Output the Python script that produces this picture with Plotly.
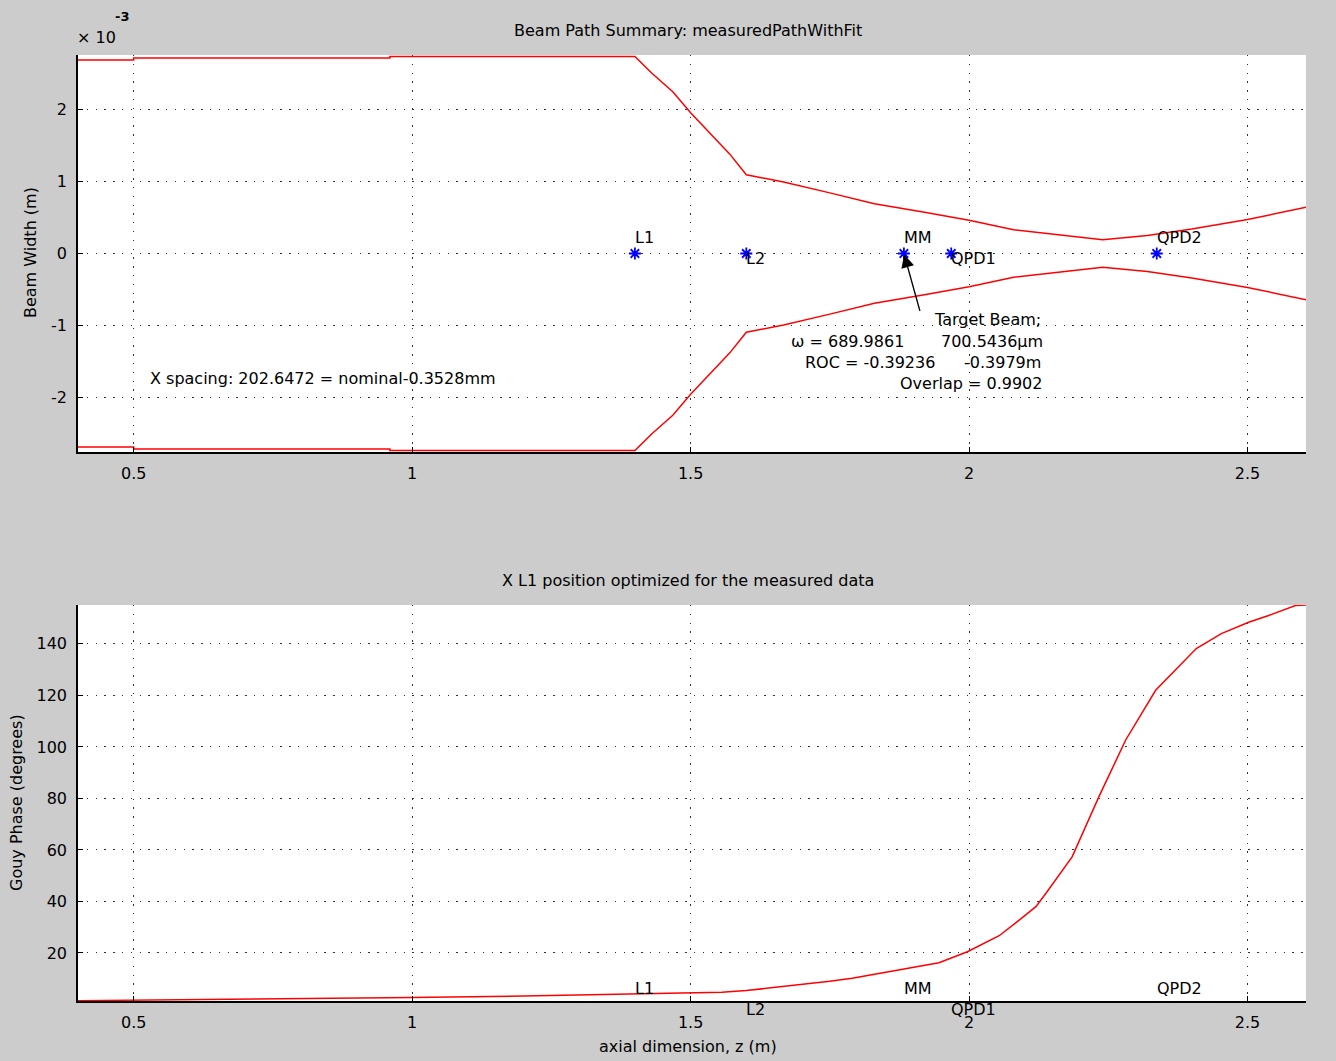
import plotly.graph_objects as go

# ---------------- data ----------------
z_width = [0.40, 0.50, 0.50, 0.96, 0.96, 1.40, 1.43, 1.468, 1.50, 1.54, 1.57, 1.60,
           1.667, 1.75, 1.83, 1.92, 2.00, 2.08, 2.165, 2.24, 2.32, 2.40, 2.50, 2.605]
beam_width = [2.68, 2.68, 2.71, 2.71, 2.73, 2.73, 2.50, 2.24, 1.95, 1.62, 1.38, 1.09,
              0.99, 0.84, 0.69, 0.57, 0.46, 0.33, 0.25, 0.19, 0.25, 0.34, 0.47, 0.64]  # x10^-3 m

z_gouy = [0.40, 0.70, 1.00, 1.20, 1.40, 1.50, 1.556, 1.60, 1.676, 1.75, 1.79, 1.865,
          1.90, 1.946, 1.997, 2.054, 2.086, 2.12, 2.14, 2.185, 2.233, 2.281, 2.335,
          2.37, 2.408, 2.453, 2.502, 2.538, 2.586, 2.605]
gouy_phase = [1.5, 2.0, 2.7, 3.3, 4.0, 4.4, 4.8, 5.4, 7.2, 9.0, 10.2, 13.0,
              14.5, 16.2, 20.5, 26.7, 32.1, 38.0, 43.8, 57.3, 80.6, 102.6, 122.0,
              129.7, 138.2, 144.0, 148.4, 151.0, 154.9, 155.1]

component_names = ["L1", "L2", "MM", "QPD1", "QPD2"]
component_z = [1.40, 1.60, 1.883, 1.968, 2.337]
component_above = [True, False, True, False, True]

x_ticks = [0.5, 1, 1.5, 2, 2.5]
x_tick_labels = ["0.5", "1", "1.5", "2", "2.5"]
top_y_ticks = [-2, -1, 0, 1, 2]
top_y_tick_labels = ["-2", "-1", "0", "1", "2"]
bottom_y_ticks = [20, 40, 60, 80, 100, 120, 140]

# ---------------- layout geometry ----------------
W, H = 1336, 1061
ML, MR, MT, MB = 78, 30, 55, 60
PW = W - ML - MR
PH = H - MT - MB
Y2_RANGE = [1.36, 155.1]


def px(xp):
    return (xp - ML) / PW


def py(yp):
    return (H - MB - yp) / PH


FONT = "DejaVu Sans"
FS = 16
RED = "#ff0000"
BLUE = "#0000ff"

fig = go.Figure()

# top: beam envelope
fig.add_trace(go.Scatter(x=z_width, y=beam_width, mode="lines",
                         line=dict(color=RED, width=1.5), xaxis="x", yaxis="y",
                         hoverinfo="skip"))
fig.add_trace(go.Scatter(x=z_width, y=[-v for v in beam_width], mode="lines",
                         line=dict(color=RED, width=1.5), xaxis="x", yaxis="y",
                         hoverinfo="skip"))
fig.add_trace(go.Scatter(x=component_z, y=[0] * len(component_z), mode="markers",
                         marker=dict(symbol="asterisk-open", size=10, color=BLUE,
                                     line=dict(color=BLUE, width=1.8)),
                         xaxis="x", yaxis="y", hoverinfo="skip"))
# bottom: gouy phase
fig.add_trace(go.Scatter(x=z_gouy, y=gouy_phase, mode="lines",
                         line=dict(color=RED, width=1.5), xaxis="x2", yaxis="y2",
                         hoverinfo="skip"))

axis_common = dict(
    showline=True, linecolor="black", linewidth=1.5,
    ticks="inside", ticklen=5, tickcolor="black", tickwidth=1.2,
    showgrid=True, gridcolor="#333333", gridwidth=1.3, griddash="1.3px,7.5px",
    zeroline=False, tickfont=dict(family=FONT, size=FS, color="black"),
    ticklabelstandoff=6,
)

top_dom = [py(452), py(55)]
bot_dom = [py(1001), py(605)]

fig.update_layout(
    width=W, height=H,
    margin=dict(l=ML, r=MR, t=MT, b=MB),
    paper_bgcolor="#cccccc", plot_bgcolor="white",
    showlegend=False,
    xaxis=dict(axis_common, domain=[0, 1], range=[0.40, 2.605], tickvals=x_ticks,
               ticktext=x_tick_labels, anchor="y"),
    yaxis=dict(axis_common, domain=top_dom, range=[-2.75, 2.75], tickvals=top_y_ticks,
               ticktext=top_y_tick_labels, anchor="x"),
    xaxis2=dict(axis_common, domain=[0, 1], range=[0.40, 2.605], tickvals=x_ticks,
                ticktext=x_tick_labels, anchor="y2"),
    yaxis2=dict(axis_common, domain=bot_dom, range=Y2_RANGE, tickvals=bottom_y_ticks,
                anchor="x2"),
)

ann = []


def txt(text, xp, yp, xanchor="center", size=FS, angle=0, yanchor="middle"):
    ann.append(dict(text=text, x=px(xp), y=py(yp), xref="paper", yref="paper",
                    xanchor=xanchor, yanchor=yanchor, showarrow=False, textangle=angle,
                    font=dict(family=FONT, size=size, color="black")))


# titles and axis labels
txt("Beam Path Summary: measuredPathWithFit", 688, 31)
txt("X L1 position optimized for the measured data", 688, 580)
txt("axial dimension, z (m)", 688, 1046)
txt("Beam Width (m)", 30, 253, angle=-90)
txt("Gouy Phase (degrees)", 16, 803, angle=-90)
txt("\u00d7 10", 96, 38)
txt("<b>-3</b>", 122, 17, size=13)

# info text
txt("X spacing: 202.6472 = nominal-0.3528mm", 148, 378, xanchor="left")
txt("Target Beam;", 1043, 320, xanchor="right")
txt("\u03c9 = 689.9861", 906, 341, xanchor="right")
txt("700.5436\u00b5m", 1045, 341, xanchor="right")
txt("ROC = -0.39236", 937, 362, xanchor="right")
txt("-0.3979m", 1043, 362, xanchor="right")
txt("Overlap = 0.9902", 1044, 383, xanchor="right")

# component labels on both panels (placed around z-axis value 0)
y2_zero_paper = bot_dom[0] - (Y2_RANGE[0] / (Y2_RANGE[1] - Y2_RANGE[0])) * (bot_dom[1] - bot_dom[0])
for name, zc, above in zip(component_names, component_z, component_above):
    shift = 16 if above else -5
    ann.append(dict(text=name, x=zc, y=0, xref="x", yref="y", xanchor="left",
                    yanchor="middle", xshift=-2, yshift=shift, showarrow=False,
                    font=dict(family=FONT, size=FS, color="black")))
    ann.append(dict(text=name, x=zc, y=y2_zero_paper, xref="x2", yref="paper",
                    xanchor="left", yanchor="middle", xshift=-2, yshift=shift,
                    showarrow=False, font=dict(family=FONT, size=FS, color="black")))

# arrow to MM
ann.append(dict(text="", x=component_z[2], y=0, xref="x", yref="y",
                ax=0.4 + (922 - ML) / 558.0, ay=(253 - 312) / 72.2, axref="x", ayref="y",
                showarrow=True, arrowhead=2, arrowsize=2, arrowwidth=1.3,
                arrowcolor="black", standoff=1))

fig.update_layout(annotations=ann)
fig.write_html("out.html", config={"displayModeBar": False},
               post_script="document.body.style.margin='0';document.body.style.overflow='hidden';")
